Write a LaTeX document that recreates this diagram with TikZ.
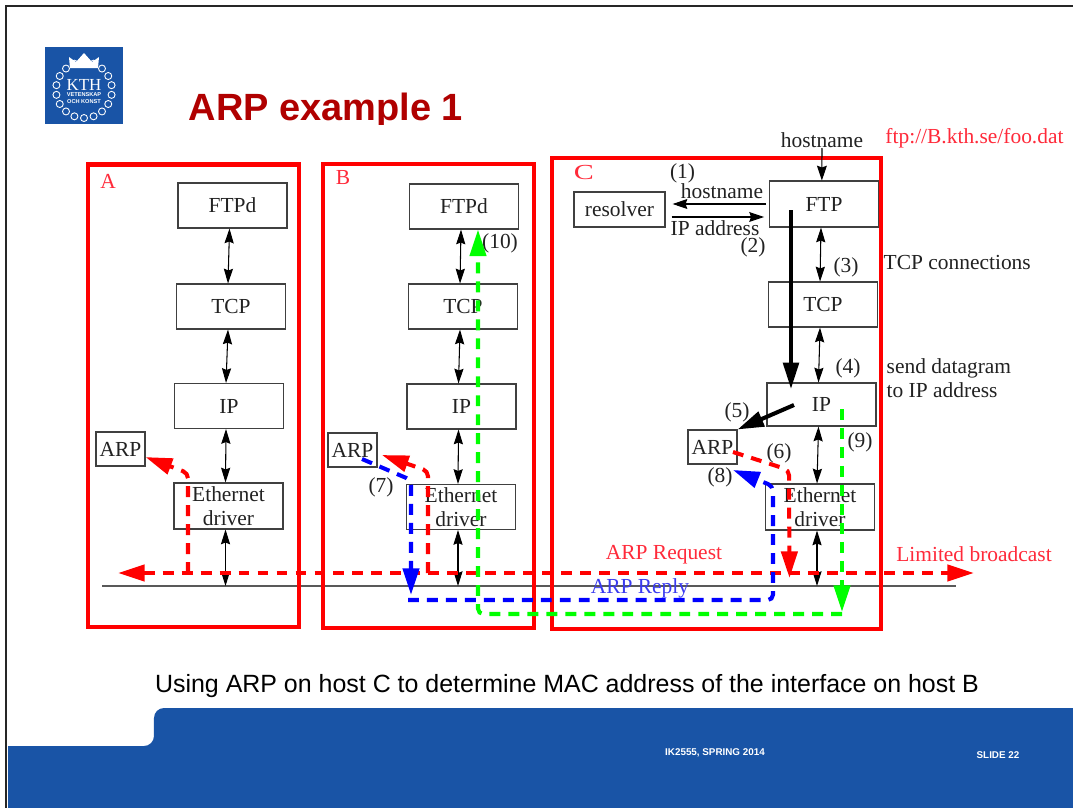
\documentclass[tikz,border=0pt]{standalone}
\usepackage{fontspec}
\setmainfont{Liberation Serif}
\setsansfont{Liberation Sans}
\usepackage{xcolor}
\usetikzlibrary{positioning,arrows.meta}
\definecolor{kthblue}{HTML}{1954A6}
\definecolor{titlered}{HTML}{B00000}
\definecolor{lblred}{HTML}{FF2A3A}
\definecolor{lblblue}{HTML}{3A3AF0}
\definecolor{ink}{HTML}{222222}
\tikzset{
  layer/.style={rectangle, draw=black!75, line width=.3pt, fill=none, inner sep=0pt, minimum width=1.09cm, minimum height=.45cm, align=center, text=ink, font=\fontsize{6.1}{6.8}\selectfont},
  small/.style={layer, minimum width=.49cm, minimum height=.34cm},
  host/.style={draw=red, line width=1.3pt},
  lbl/.style={inner sep=0pt, text=ink, font=\fontsize{6.1}{6.8}\selectfont},
  hostlbl/.style={lbl, text=lblred},
  link/.style={draw=black, line width=.3pt, <->, >={Stealth[length=4.2pt,width=2.6pt,inset=.5pt]}},
  thin/.style={draw=black, line width=.3pt, ->, >={Stealth[length=4.2pt,width=2.8pt,inset=.5pt]}},
  bold/.style={draw=black, line width=1.15pt, ->, >={Triangle[length=7.5pt,width=4.4pt]}},
  flow/.style={line width=1.15pt, dash pattern=on 3.1pt off 2.3pt, rounded corners=1.5pt, ->, >={Triangle[length=7.6pt,width=4.6pt]}},
  bcast/.style={flow, draw=red, <->},
  req/.style={flow, draw=red},
  rep/.style={flow, draw=blue},
  dat/.style={flow, draw=green}
}

\begin{document}
\begin{tikzpicture}
    \useasboundingbox (0,0) rectangle (10.73,-8.08);
    \fill[white] (0,0) rectangle (10.73,-8.08);
    \draw[black!85, line width=.6pt] (.06,-8.08) -- (.06,-.06) -- (10.73,-.06);
    \fill[kthblue] (.08,-8.08) -- (.08,-7.46) -- (1.44,-7.46) to[out=0,in=-90] (1.54,-7.36) -- (1.54,-7.18) to[out=90,in=180] (1.64,-7.08) -- (10.73,-7.08) -- (10.73,-8.08) -- cycle;
    \node[inner sep=0pt, text=white, font=\sffamily\bfseries\fontsize{2.8}{3}\selectfont] (course) at (7.15,-7.53) {IK2555, SPRING 2014};
    \node[inner sep=0pt, text=white, font=\sffamily\bfseries\fontsize{2.8}{3}\selectfont] (slide) at (9.98,-7.55) {SLIDE 22};
    \node[inner sep=0pt, text=black, font=\sffamily\fontsize{7.1}{8}\selectfont] (caption) at (5.67,-6.86) {Using ARP on host C to determine MAC address of the interface on host B};

    \fill[kthblue] (.45,-.47) rectangle (1.23,-1.24);
    \foreach \a in {0,20,...,340}
      \draw[white, line width=.25pt] (.84,-.9)+(\a+10:.28) circle (.035);
    \fill[white] (.7,-.68) -- (.69,-.57) -- (.76,-.62) -- (.84,-.53) -- (.92,-.62) -- (.99,-.57) -- (.98,-.68) -- cycle;
    \node[inner sep=0pt, text=white, font=\fontsize{4.8}{5}\selectfont] (kth) at (.84,-.85) {KTH};
    \node[inner sep=0pt, text=white, align=center, font=\sffamily\bfseries\fontsize{1.6}{1.9}\selectfont] (konst) at (.84,-.98) {VETENSKAP\\OCH KONST};

    \begin{scope}
      \clip (1.5,-.8) rectangle (5,-1.24);
      \node[anchor=base west, inner sep=0pt, text=titlered, font=\sffamily\bfseries\fontsize{10.8}{12}\selectfont] (title) at (1.88,-1.207) {ARP example 1};
    \end{scope}

    \coordinate (netL) at (1.02,-5.86);
    \coordinate (netR) at (9.56,-5.86);
    \draw[black!65, line width=.3pt] (netL) -- (netR);

    \draw[host] (.88,-1.645) rectangle (2.99,-6.27);
    \draw[host] (3.23,-1.64) rectangle (5.34,-6.28);
    \draw[host] (5.52,-1.58) rectangle (8.81,-6.29);
    \node[hostlbl] (hostA) at (1.08,-1.81) {A};
    \node[hostlbl] (hostB) at (3.43,-1.78) {B};
    \node[hostlbl, transform shape, xscale=1.4] (hostC) at (5.84,-1.73) {C};

    \node[layer] (ftpA) at (2.325,-2.055) {FTPd};
    \node[layer] (tcpA) at (2.31,-3.065) {TCP};
    \node[layer] (ipA) at (2.29,-4.06) {IP};
    \node[layer, minimum height=.46cm] (ethA) at (2.285,-5.06) {Ethernet\\driver};
    \node[small] (arpA) at (1.205,-4.49) {ARP};

    \node[layer] (ftpB) at (4.64,-2.065) {FTPd};
    \node[layer] (tcpB) at (4.63,-3.065) {TCP};
    \node[layer] (ipB) at (4.615,-4.065) {IP};
    \node[layer] (ethB) at (4.61,-5.07) {Ethernet\\driver};
    \node[small] (arpB) at (3.525,-4.5) {ARP};

    \node[layer, minimum height=.46cm] (ftpC) at (8.24,-2.04) {FTP};
    \node[layer] (tcpC) at (8.23,-3.045) {TCP};
    \node[layer, minimum height=.43cm] (ipC) at (8.215,-4.045) {IP};
    \node[layer, minimum height=.46cm] (ethC) at (8.2,-5.07) {Ethernet\\driver};
    \node[small] (arpC) at (7.125,-4.47) {ARP};
    \node[layer, minimum width=.91cm, minimum height=.35cm] (resolver) at (6.195,-2.095) {resolver};

    \draw[link] ([xshift=-.85pt]ftpA.south) -- ([xshift=-.85pt]tcpA.north);
    \draw[link] ([xshift=-.85pt]tcpA.south) -- ([xshift=-.85pt]ipA.north);
    \draw[link] ([xshift=-.85pt]ipA.south) -- ([xshift=-.85pt]ethA.north);
    \draw[link] ([xshift=-.85pt]ethA.south) -- ([xshift=-.85pt]ethA.south |- netL);
    \draw[link] ([xshift=-.85pt]ftpB.south) -- ([xshift=-.85pt]tcpB.north);
    \draw[link] ([xshift=-.85pt]tcpB.south) -- ([xshift=-.85pt]ipB.north);
    \draw[link] ([xshift=-.85pt]ipB.south) -- ([xshift=-.85pt]ethB.north);
    \draw[link] ([xshift=-.85pt]ethB.south) -- ([xshift=-.85pt]ethB.south |- netL);
    \draw[link] ([xshift=-.85pt]ftpC.south) -- ([xshift=-.85pt]tcpC.north);
    \draw[link] ([xshift=-.85pt]tcpC.south) -- ([xshift=-.85pt]ipC.north);
    \draw[link] ([xshift=-.85pt]ipC.south) -- ([xshift=-.85pt]ethC.north);
    \draw[link] ([xshift=-.85pt]ethC.south) -- ([xshift=-.85pt]ethC.south |- netL);

    \node[lbl] (hostTop) at (8.22,-1.4) {hostname};
    \node[hostlbl] (url) at (9.745,-1.38) {ftp://B.kth.se/foo.dat};
    \draw[thin] (hostTop.south) -- ([xshift=-.6pt]ftpC.north);
    \draw[thin] ([xshift=-.8pt]ftpC.west) -- ([xshift=2pt]ftpC.west -| resolver.east);
    \draw[thin] ([xshift=1.7pt,yshift=-2.13pt]resolver.east) -- ([xshift=-1.4pt,yshift=-2.13pt]resolver.east -| ftpC.west);

    \node[lbl] (step1) at (6.825,-1.73) {(1)};
    \node[lbl] (hostRes) at (7.22,-1.91) {hostname};
    \node[lbl] (ipRes) at (7.15,-2.28) {IP address};
    \node[lbl] (step2) at (7.53,-2.47) {(2)};
    \node[lbl] (step3) at (8.46,-2.67) {(3)};
    \node[lbl] (step4) at (8.48,-3.68) {(4)};
    \node[lbl] (step5) at (7.37,-4.12) {(5)};
    \node[lbl] (step6) at (7.79,-4.53) {(6)};
    \node[lbl] (step7) at (3.81,-4.87) {(7)};
    \node[lbl] (step8) at (7.2,-4.77) {(8)};
    \node[lbl] (step9) at (8.6,-4.42) {(9)};
    \node[lbl] (step10) at (5,-2.43) {(10)};
    \node[lbl, anchor=west] (tcpConn) at (8.83,-2.63) {TCP connections};
    \node[lbl, anchor=west, align=left] (sendIp) at (8.86,-3.78) {send datagram\\to IP address};

    \coordinate (ftpDrop) at (7.91,-2.1);
    \coordinate (ipDrop) at (7.91,-3.89);
    \coordinate (ipOut) at (7.94,-4.05);
    \draw[bold] (ftpDrop) -- (ipDrop);
    \draw[bold] (ipOut) -- (arpC.north east);

    \coordinate (bcL) at (1.18,-5.73);
    \coordinate (bcR) at (9.74,-5.73);
    \draw[bcast] (bcL) -- (bcR);
    \coordinate (upA) at (1.88,-5.73);
    \coordinate (kneeA) at (1.88,-4.73);
    \draw[req] (upA) -- (kneeA) -- ([yshift=-2.3pt]arpA.east);
    \coordinate (upB) at (4.28,-5.73);
    \coordinate (kneeB) at (4.28,-4.71);
    \coordinate (tipB) at (3.82,-4.55);
    \draw[req] (upB) -- (kneeB) -- (tipB);
    \coordinate (outC) at (7.33,-4.52);
    \coordinate (kneeC) at (7.89,-4.7);
    \coordinate (tipC) at (7.895,-5.78);
    \draw[req] (outC) -- (kneeC) -- (tipC);

    \coordinate (outB) at (3.62,-4.59);
    \coordinate (kneeR) at (4.11,-4.8);
    \coordinate (tipR) at (4.11,-5.95);
    \draw[rep] (outB) -- (kneeR) -- (tipR);
    \coordinate (repL) at (4.08,-6);
    \coordinate (repR) at (7.73,-6);
    \coordinate (kneeS) at (7.73,-4.86);
    \coordinate (tipS) at (7.33,-4.7);
    \draw[rep] (repL) -- (repR) -- (kneeS) -- (tipS);

    \coordinate (ipGreen) at (8.42,-4.09);
    \coordinate (tipG) at (8.42,-6.12);
    \draw[dat] (ipGreen) -- (tipG);
    \coordinate (datR) at (8.42,-6.14);
    \coordinate (datL) at (4.78,-6.14);
    \draw[dat] (datR) -- (datL) -- (ftpB.south -| datL);

    \node[hostlbl] (request) at (6.64,-5.55) {ARP Request};
    \node[hostlbl] (limited) at (9.74,-5.54) {Limited broadcast};
    \node[lbl, text=lblblue] (reply) at (6.4,-5.88) {ARP Reply};
\end{tikzpicture}
\end{document}
